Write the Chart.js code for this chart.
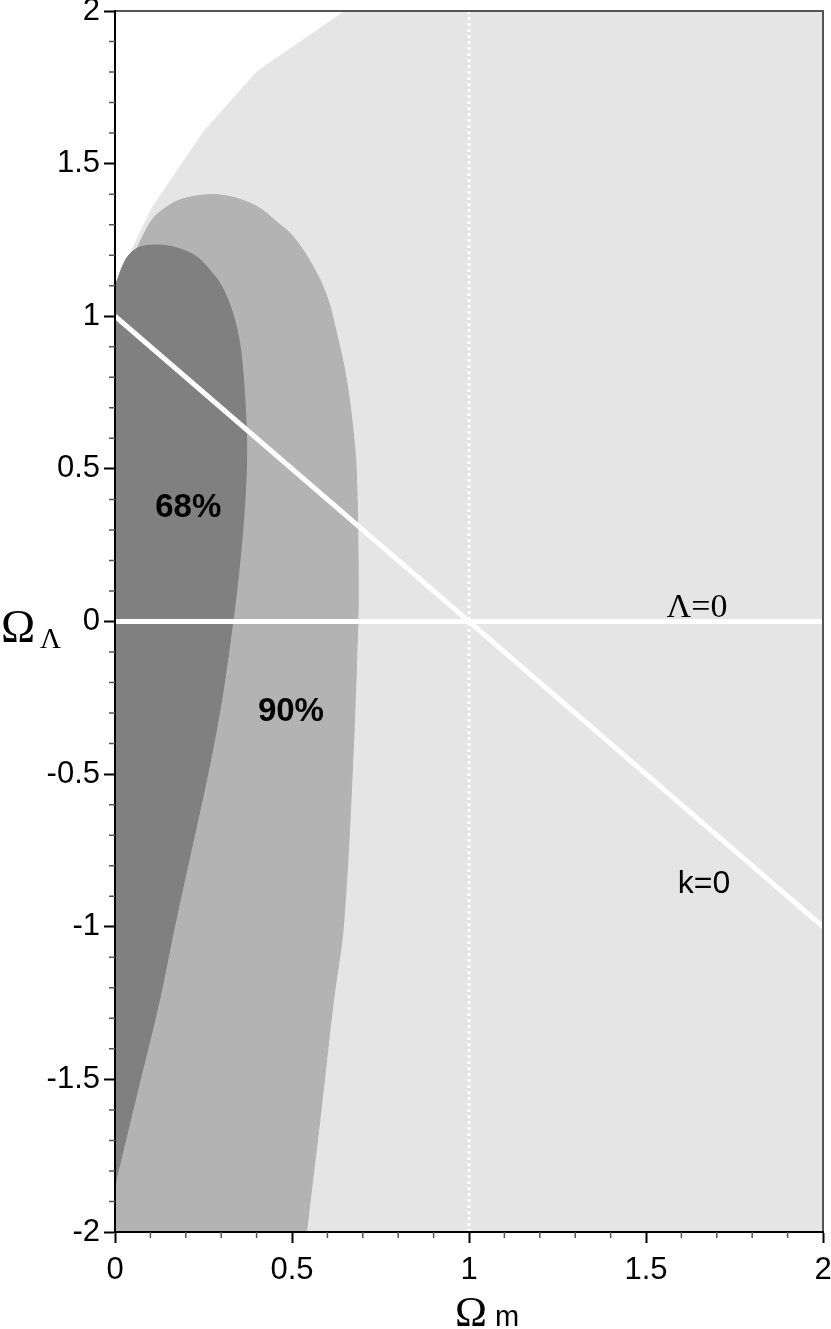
<!DOCTYPE html>
<html>
<head>
<meta charset="utf-8">
<script src="https://cdn.jsdelivr.net/npm/chart.js"></script>
<style>
  html, body { margin: 0; padding: 0; background: #fff; }
  canvas { display: block; }
</style>
</head>
<body>
<canvas id="chart" width="831" height="1329"></canvas>
<script>
// ── data (Omega_m, Omega_Lambda) ──────────────────────────

// allowed region (light grey), upper-left is excluded
const allowedX = [0, 0, 0.104, 0.25, 0.40, 0.65, 2, 2];
const allowedY = [-2, 1.10, 1.354, 1.604, 1.80, 2.0, 2, -2];

// 90% confidence contour (closing points run outside the axes and get clipped)
const cl90X = [-0.03, 0, 0.052, 0.104, 0.146, 0.188, 0.25, 0.297, 0.353, 0.41, 0.457, 0.504, 0.56, 0.60, 0.626, 0.654, 0.678, 0.684, 0.687, 0.686, 0.67, 0.645, 0.617, 0.58, 0.541, 0.532, -0.2, -0.2];
const cl90Y = [1.03, 1.10, 1.20, 1.315, 1.358, 1.383, 1.397, 1.397, 1.383, 1.353, 1.309, 1.26, 1.162, 1.06, 0.943, 0.79, 0.56, 0.40, 0.15, 0.0, -0.5, -1.0, -1.243, -1.62, -2.0, -2.1, -2.2, 1.0];

// 68% confidence contour
const cl68X = [-0.03, 0, 0.03, 0.061, 0.104, 0.146, 0.188, 0.231, 0.268, 0.297, 0.325, 0.344, 0.356, 0.367, 0.372, 0.367, 0.353, 0.334, 0.301, 0.262, 0.215, 0.168, 0.125, 0.06, 0.005, -0.03, -0.2, -0.2];
const cl68Y = [1.03, 1.10, 1.185, 1.222, 1.233, 1.231, 1.219, 1.195, 1.151, 1.107, 1.036, 0.96, 0.88, 0.725, 0.561, 0.397, 0.2, 0.01, -0.259, -0.5, -0.75, -1.0, -1.243, -1.555, -1.82, -2.0, -2.2, 1.0];

// reference lines
const flatX = [0, 2];      // k=0 : Omega_m + Omega_L = 1
const flatY = [1, -1];
const noLambdaX = [0, 2];  // Lambda = 0
const noLambdaY = [0, 0];
const unitX = [1, 1];      // Omega_m = 1
const unitY = [-2, 2];

// ticks
const xTickValues = [0, 0.5, 1, 1.5, 2];
const xTickLabels = ['0', '0.5', '1', '1.5', '2'];
const yTickValues = [-2, -1.5, -1, -0.5, 0, 0.5, 1, 1.5, 2];
const yTickLabels = ['-2', '-1.5', '-1', '-0.5', '0', '0.5', '1', '1.5', '2'];

// text inside the plot
const notes = [
  { text: '68%', x: 0.207, y: 0.342, font: 'bold 33px "Liberation Sans"' },
  { text: '90%', x: 0.497, y: -0.325, font: 'bold 33px "Liberation Sans"' },
  { text: 'Λ=0', x: 1.644, y: 0.016, font: '34px "Liberation Serif"' },
  { text: 'k=0', x: 1.664, y: -0.888, font: '32px "Liberation Sans"' }
];

const toPoints = (xs, ys) => xs.map((x, i) => ({ x: x, y: ys[i] }));

// ── plugins ───────────────────────────────────────────────

// top/right frame, in-plot notes, minor ticks, axis titles
const extras = {
  id: 'extras',
  afterDatasetsDraw(chart) {
    const { ctx, chartArea: a, scales: { x, y } } = chart;
    ctx.save();
    ctx.strokeStyle = '#555';
    ctx.lineWidth = 2;
    ctx.beginPath();
    ctx.moveTo(a.left, a.top);
    ctx.lineTo(a.right, a.top);
    ctx.lineTo(a.right, a.bottom);
    ctx.stroke();

    ctx.fillStyle = '#000';
    ctx.textAlign = 'center';
    ctx.textBaseline = 'alphabetic';
    notes.forEach(n => {
      ctx.font = n.font;
      ctx.fillText(n.text, x.getPixelForValue(n.x), y.getPixelForValue(n.y));
    });
    ctx.restore();
  },
  afterDraw(chart) {
    const { ctx, scales: { x, y } } = chart;
    ctx.save();
    ctx.strokeStyle = '#555';
    ctx.lineWidth = 1.5;
    ctx.beginPath();
    for (let i = -20; i <= 20; i++) {
      if (i % 5 === 0) continue;
      const py = y.getPixelForValue(i / 10);
      ctx.moveTo(y.right - 6, py);
      ctx.lineTo(y.right, py);
      if (i > 0) {
        const px = x.getPixelForValue(i / 10);
        ctx.moveTo(px, x.top);
        ctx.lineTo(px, x.top + 6);
      }
    }
    ctx.stroke();

    // axis titles with subscripts
    ctx.fillStyle = '#000';
    ctx.textAlign = 'left';
    ctx.textBaseline = 'alphabetic';
    const y0 = y.getPixelForValue(0);
    ctx.font = '46px "Liberation Serif"';
    ctx.fillText('Ω', 1, y0 + 20);
    ctx.font = '29px "Liberation Serif"';
    ctx.fillText('Λ', 40, y0 + 26);

    const x1 = x.getPixelForValue(1);
    ctx.font = '43px "Liberation Serif"';
    ctx.textAlign = 'center';
    ctx.fillText('Ω', x1 + 2, 1326);
    ctx.textAlign = 'left';
    ctx.font = '29px "Liberation Sans"';
    ctx.fillText('m', x1 + 26, 1326);
    ctx.restore();
  }
};

// ── chart ─────────────────────────────────────────────────

const region = (pts, color, order, tension) => ({
  data: pts,
  showLine: true,
  fill: 'shape',
  backgroundColor: color,
  borderColor: color,
  borderWidth: 1,
  pointRadius: 0,
  tension: tension,
  capBezierPoints: false,
  order: order
});

const whiteLine = (pts, width, order) => ({
  data: pts,
  showLine: true,
  borderColor: '#ffffff',
  borderWidth: width,
  pointRadius: 0,
  order: order
});

const ctx = document.getElementById('chart').getContext('2d');

const dotted = whiteLine(toPoints(unitX, unitY), 3, 3);
dotted.borderDash = [3, 3];

new Chart(ctx, {
  type: 'scatter',
  data: {
    datasets: [
      region(toPoints(allowedX, allowedY), '#e5e5e5', 10, 0),
      region(toPoints(cl90X, cl90Y), '#b3b3b3', 9, 0.35),
      region(toPoints(cl68X, cl68Y), '#808080', 8, 0.35),
      dotted,
      whiteLine(toPoints(noLambdaX, noLambdaY), 5, 2),
      whiteLine(toPoints(flatX, flatY), 5, 1)
    ]
  },
  options: {
    responsive: false,
    animation: false,
    layout: { padding: { top: 11, right: 8, left: 0, bottom: 0 } },
    plugins: {
      legend: { display: false },
      tooltip: { enabled: false }
    },
    scales: {
      x: {
        type: 'linear',
        position: 'bottom',
        min: 0,
        max: 2,
        afterBuildTicks: s => { s.ticks = xTickValues.map(v => ({ value: v })); },
        afterFit: s => { s.height = 97; s.paddingLeft = 0; s.paddingRight = 0; },
        ticks: {
          color: '#000',
          font: { family: 'Liberation Sans', size: 31 },
          padding: 9,
          maxRotation: 0,
          autoSkip: false,
          callback: (v, i) => xTickLabels[i]
        },
        grid: { drawOnChartArea: false, tickLength: 11, tickColor: '#000', tickWidth: 2 },
        border: { color: '#000', width: 2, z: 1 }
      },
      y: {
        type: 'linear',
        position: 'left',
        min: -2,
        max: 2,
        afterBuildTicks: s => { s.ticks = yTickValues.map(v => ({ value: v })); },
        afterFit: s => { s.width = 115; s.paddingTop = 0; s.paddingBottom = 0; },
        ticks: {
          color: '#000',
          font: { family: 'Liberation Sans', size: 31 },
          padding: 4,
          autoSkip: false,
          callback: (v, i) => yTickLabels[i]
        },
        grid: { drawOnChartArea: false, tickLength: 11, tickColor: '#000', tickWidth: 2 },
        border: { color: '#000', width: 2, z: 1 }
      }
    }
  },
  plugins: [extras]
});
</script>
</body>
</html>
